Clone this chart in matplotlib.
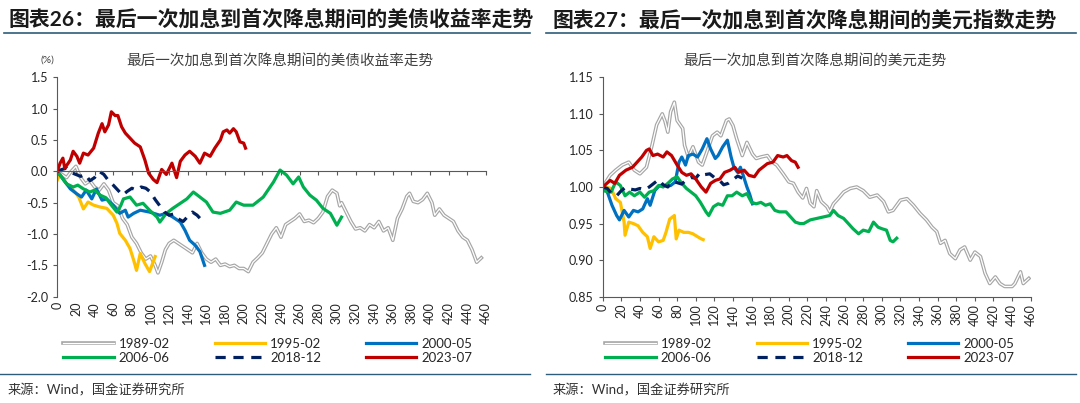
# -*- coding: utf-8 -*-
"""
Two panels: US yield and dollar index moves between the last hike and the first cut.
"""
import matplotlib
matplotlib.use("Agg")
import matplotlib.pyplot as plt
import matplotlib.patheffects as pe
from matplotlib.lines import Line2D

plt.rcParams['font.family'] = ['Lato', 'Noto Sans CJK SC', 'DejaVu Sans']
plt.rcParams['axes.unicode_minus'] = False

#--------------------------------------------
#---  data: left panel (yield change, %)  ---
yld_x_1989 = [0, 5, 10, 15, 20, 25, 30, 35, 40, 45,
              50, 55, 60, 65, 70, 75, 80, 85, 90, 95,
              100, 105, 108, 112, 116, 120, 125, 130, 135, 140,
              145, 150, 155, 160, 165, 170, 175, 180, 185, 190,
              195, 200, 205, 210, 215, 220, 225, 230, 235, 240,
              245, 250, 255, 260, 265, 270, 275, 280, 285, 290,
              295, 300, 303, 305, 310, 315, 320, 325, 330, 335,
              340, 345, 350, 355, 360, 365, 370, 375, 378, 382,
              387, 392, 397, 402, 405, 410, 415, 420, 425, 430,
              435, 440, 445, 450, 455]
yld_1989 = [0, -0.05, -0.1, 0.0, 0.08, -0.1, -0.2, -0.15, -0.25, -0.3,
            -0.2, -0.3, -0.5, -0.55, -0.75, -0.85, -1.05, -1.15, -1.3, -1.4,
            -1.35, -1.5, -1.62, -1.45, -1.25, -1.15, -1.1, -1.15, -1.2, -1.25,
            -1.3, -1.15, -1.3, -1.4, -1.45, -1.4, -1.5, -1.48, -1.52, -1.5,
            -1.55, -1.55, -1.6, -1.45, -1.38, -1.3, -1.15, -1.0, -0.9, -1.05,
            -0.85, -0.8, -0.75, -0.68, -0.8, -0.78, -0.82, -0.75, -0.65, -0.4,
            -0.3, -0.35, -0.55, -0.5, -0.65, -0.8, -0.92, -0.9, -0.95, -0.85,
            -0.9, -0.8, -0.95, -0.9, -1.1, -0.75, -0.6, -0.4, -0.35, -0.48,
            -0.5, -0.45, -0.35, -0.5, -0.7, -0.6, -0.7, -0.75, -0.8, -0.95,
            -1.05, -1.1, -1.25, -1.45, -1.38]

yld_x_1995 = [0, 3, 6, 10, 14, 17, 20, 23, 28, 33, 39, 46,
              53, 60, 64, 67, 73, 78, 82, 85, 89, 94, 99, 105]
yld_1995 = [-0.14, -0.05, -0.12, -0.2, -0.25, -0.3, -0.35, -0.41, -0.6, -0.49, -0.54, -0.57,
            -0.59, -0.7, -0.83, -0.99, -1.1, -1.23, -1.42, -1.58, -1.31, -1.47, -1.6, -1.36]

yld_x_2000 = [0, 6, 14, 21, 26, 31, 37, 42, 48, 53, 60, 67, 73,
              76, 82, 89, 99, 110, 117, 124, 132, 137, 142, 148, 153, 158]
yld_2000 = [0, -0.12, -0.28, -0.36, -0.41, -0.3, -0.44, -0.28, -0.46, -0.44, -0.54, -0.67, -0.62,
            -0.73, -0.67, -0.62, -0.65, -0.7, -0.67, -0.73, -0.81, -0.94, -1.1, -1.18, -1.28, -1.5]

yld_x_2006 = [0, 6, 10, 17, 22, 28, 35, 40, 46, 52, 57, 64, 68, 71, 78, 85,
              92, 99, 107, 110, 117, 124, 132, 139, 146, 153, 160, 167, 175, 185, 192,
              200, 210, 221, 232, 239, 246, 253, 259, 264, 271, 278, 285, 293, 300, 305]
yld_2006 = [0, -0.12, -0.2, -0.25, -0.22, -0.28, -0.33, -0.3, -0.38, -0.42, -0.52, -0.65, -0.55, -0.44, -0.41, -0.54,
            -0.51, -0.62, -0.73, -0.81, -0.67, -0.59, -0.51, -0.44, -0.33, -0.41, -0.49, -0.65, -0.67, -0.62, -0.49,
            -0.54, -0.54, -0.41, -0.17, 0.02, -0.06, -0.2, -0.09, -0.25, -0.38, -0.46, -0.59, -0.67, -0.86, -0.73]

yld_x_2018 = [0, 5, 10, 15, 20, 25, 30, 35, 40, 45, 50, 55, 60, 65, 70, 75,
              80, 85, 90, 95, 100, 105, 110, 115, 120, 125, 130, 135, 140, 145, 150, 155]
yld_2018 = [0, 0.03, 0.05, -0.02, -0.05, -0.08, -0.05, -0.15, -0.1, 0.0, -0.05, -0.15, -0.22, -0.3, -0.38, -0.32,
            -0.27, -0.3, -0.25, -0.27, -0.33, -0.45, -0.55, -0.65, -0.7, -0.68, -0.76, -0.8, -0.72, -0.65, -0.7, -0.78]

yld_x_2023 = [0, 3, 6, 8, 14, 17, 21, 24, 28, 33, 39, 44, 48, 51, 55, 58,
              62, 65, 69, 73, 78, 83, 89, 94, 98, 103, 107, 112, 117, 123, 128, 132,
              137, 142, 148, 153, 158, 164, 169, 175, 178, 182, 185, 189, 192, 196, 200, 202]
yld_2023 = [0, 0.13, 0.21, 0.05, 0.18, 0.32, 0.24, 0.13, 0.29, 0.26, 0.37, 0.61, 0.76, 0.63, 0.74, 0.95,
            0.89, 0.89, 0.71, 0.61, 0.53, 0.45, 0.39, 0.18, -0.03, -0.13, -0.18, 0.03, -0.05, 0.13, -0.1, 0.16,
            0.26, 0.32, 0.24, 0.13, 0.29, 0.24, 0.37, 0.5, 0.63, 0.66, 0.61, 0.68, 0.63, 0.47, 0.45, 0.37]

#---  data: right panel (dollar index, start = 1)  ---
usd_x_1989 = [0, 8, 14, 21, 28, 34, 40, 47, 53, 58,
              64, 67, 70, 73, 77, 80, 86, 88, 92, 97,
              103, 107, 112, 118, 123, 127, 133, 136, 140, 144,
              150, 155, 161, 165, 170, 177, 182, 187, 194, 200,
              205, 210, 215, 219, 223, 227, 230, 235, 241, 244,
              248, 253, 259, 266, 273, 280, 287, 295, 302, 307,
              312, 320, 327, 334, 341, 348, 354, 359, 363, 368,
              373, 379, 384, 389, 395, 400, 406, 411, 416, 422,
              427, 432, 440, 443, 449, 452, 458]
usd_1989 = [1.0, 1.016, 1.023, 1.03, 1.034, 1.023, 1.018, 1.027, 1.057, 1.085,
            1.10, 1.09, 1.075, 1.103, 1.116, 1.091, 1.08, 1.057, 1.041, 1.055,
            1.034, 1.03, 1.048, 1.07, 1.075, 1.07, 1.091, 1.093, 1.084, 1.066,
            1.043, 1.061, 1.045, 1.039, 1.041, 1.043, 1.034, 1.03, 1.018, 1.007,
            1.005, 0.993, 0.985, 0.998, 0.978, 0.973, 0.995, 0.98, 0.973, 0.966,
            0.977, 0.984, 0.993, 0.998, 1.0, 0.995, 0.986, 0.989, 0.98, 0.966,
            0.968, 0.982, 0.984, 0.975, 0.964, 0.955, 0.945, 0.939, 0.923, 0.927,
            0.909, 0.902, 0.914, 0.918, 0.9, 0.911, 0.905, 0.882, 0.868, 0.877,
            0.868, 0.864, 0.864, 0.868, 0.884, 0.868, 0.875]

usd_x_1995 = [0, 3, 9, 14, 19, 23, 24, 28, 33, 38, 43, 48, 51, 55,
              60, 65, 68, 72, 77, 79, 82, 87, 92, 97, 102, 106, 108]
usd_1995 = [1.0, 1.0, 0.998, 0.984, 0.979, 0.952, 0.934, 0.952, 0.95, 0.947, 0.938, 0.932, 0.916, 0.932,
            0.925, 0.927, 0.938, 0.956, 0.961, 0.929, 0.941, 0.938, 0.938, 0.936, 0.932, 0.929, 0.928]

usd_x_2000 = [0, 5, 10, 15, 18, 23, 28, 33, 38, 43, 48, 51, 56, 61, 66, 73, 78, 82, 85,
              89, 92, 97, 102, 107, 112, 116, 121, 124, 129, 134, 138, 141, 145, 148, 151, 155, 158, 161]
usd_2000 = [1.0, 0.993, 0.975, 0.961, 0.955, 0.968, 0.959, 0.968, 0.966, 0.97, 0.984, 0.975, 0.995, 1.002, 1.002, 1.002, 1.007, 1.034, 1.041,
            1.03, 1.043, 1.045, 1.041, 1.052, 1.066, 1.052, 1.039, 1.043, 1.055, 1.064, 1.041, 1.027, 1.02, 1.027, 1.016, 1.0, 0.99, 0.977]

usd_x_2006 = [0, 9, 14, 19, 24, 29, 34, 40, 45, 50, 55, 60, 65, 70, 75, 80,
              85, 90, 95, 100, 105, 111, 114, 119, 124, 129, 134, 139, 144, 150, 155,
              160, 165, 170, 175, 180, 185, 190, 197, 202, 207, 212, 216, 223, 230, 237,
              244, 248, 253, 259, 264, 269, 275, 280, 286, 291, 296, 300, 305, 309, 312, 316]
usd_2006 = [0.995, 0.993, 1.007, 1.002, 0.988, 0.993, 0.988, 0.993, 0.986, 0.993, 0.995, 1.002, 1.0, 1.005, 1.011, 1.014,
            1.005, 0.998, 0.993, 0.988, 0.979, 0.966, 0.961, 0.973, 0.977, 0.975, 0.988, 0.988, 0.993, 0.988, 0.991,
            0.979, 0.977, 0.979, 0.975, 0.977, 0.968, 0.966, 0.966, 0.959, 0.952, 0.95, 0.95, 0.955, 0.957, 0.959,
            0.961, 0.968, 0.961, 0.957, 0.95, 0.943, 0.936, 0.941, 0.939, 0.952, 0.945, 0.943, 0.941, 0.927, 0.925, 0.93]

usd_x_2018 = [0, 5, 10, 15, 20, 25, 30, 35, 40, 45, 50, 55, 60, 65, 70, 75,
              80, 85, 90, 95, 100, 105, 110, 115, 120, 125, 130, 135, 140, 145, 150]
usd_2018 = [1.0, 0.998, 0.99, 0.988, 0.995, 1.0, 0.997, 0.996, 0.998, 0.996, 1.0, 1.005, 1.01, 1.003, 1.0, 1.008,
            1.006, 1.004, 1.01, 1.013, 1.012, 1.02, 1.017, 1.018, 1.013, 1.01, 1.003, 1.005, 1.01, 1.015, 1.012]

usd_x_2023 = [0, 8, 13, 18, 25, 32, 37, 42, 47, 50, 54, 59, 65, 69, 74, 80, 85, 90, 95, 100, 106,
              111, 116, 121, 126, 131, 137, 142, 146, 152, 157, 163, 168, 172, 177, 183, 188, 194, 198, 203, 207, 210]
usd_2023 = [1.0, 1.009, 1.005, 1.016, 1.023, 1.027, 1.034, 1.041, 1.05, 1.052, 1.043, 1.045, 1.041, 1.048, 1.043, 1.03, 1.02, 1.016, 1.018, 1.011, 1.0,
            0.993, 1.005, 1.009, 1.011, 1.02, 1.023, 1.027, 1.02, 1.023, 1.016, 1.014, 1.023, 1.027, 1.032, 1.034, 1.043, 1.041, 1.043, 1.036, 1.034, 1.027]

labels = ['1989-02', '1995-02', '2000-05', '2006-06', '2018-12', '2023-07']
colors = ['#a6a6a6', '#ffc000', '#0070c0', '#00b050', '#002060', '#c00000']

x_ticks = list(range(0, 461, 20))
yld_ticks = [-2.0, -1.5, -1.0, -0.5, 0.0, 0.5, 1.0, 1.5]
usd_ticks = [0.85, 0.90, 0.95, 1.00, 1.05, 1.10, 1.15]

W, H = 1080, 403
fig = plt.figure(figsize=(W / 100, H / 100), dpi=100)


def fx(px):
    return px / W


def fy(py):
    return 1 - py / H


def draw_panel(ax, series, ylim, yticks, yfmt, zero_axis=False, xpad=2):
    if zero_axis:
        # x axis line sits on y = 0, labels stay at the bottom
        ax.spines['bottom'].set_position(('data', 0))
    lines = []
    for i, (xs, ys) in enumerate(series):
        if i == 0:
            # double line: white core with a grey outline
            ln, = ax.plot(xs, ys, color='white', lw=0.9, label=labels[i],
                          path_effects=[pe.Stroke(linewidth=2.6, foreground=colors[0]), pe.Normal()])
        elif i == 4:
            ln, = ax.plot(xs, ys, color=colors[i], lw=2.3, dashes=(3.2, 2.4), label=labels[i])
        else:
            ln, = ax.plot(xs, ys, color=colors[i], lw=2.3, label=labels[i])
        lines.append(ln)
    ax.set_xlim(0, 460)
    ax.set_ylim(*ylim)
    ax.set_xticks(x_ticks)
    ax.set_xticklabels([str(t) for t in x_ticks])
    ax.set_yticks(yticks)
    ax.set_yticklabels([yfmt % t for t in yticks])
    for s in ['top', 'right']:
        ax.spines[s].set_visible(False)
    for s in ['left', 'bottom']:
        ax.spines[s].set_color('#595959')
        ax.spines[s].set_linewidth(0.8)
    ax.tick_params(axis='both', direction='out', length=3, width=0.8,
                   color='#595959', labelsize=9, labelcolor='#262626')
    ax.tick_params(axis='x', labelrotation=90, pad=xpad)
    ax.patch.set_visible(False)
    return lines


#---  left panel  ---
ax1 = fig.add_axes([fx(57.3), fy(296.7), (486 - 57.3) / W, (296.7 - 77.3) / H])
lines1 = draw_panel(ax1, [(yld_x_1989, yld_1989), (yld_x_1995, yld_1995), (yld_x_2000, yld_2000),
                          (yld_x_2006, yld_2006), (yld_x_2018, yld_2018), (yld_x_2023, yld_2023)],
                    (-2.0, 1.5), yld_ticks, '%.1f', zero_axis=True, xpad=91)

#---  right panel  ---
ax2 = fig.add_axes([fx(602.7), fy(296.7), (1030.7 - 602.7) / W, (296.7 - 77.3) / H])
lines2 = draw_panel(ax2, [(usd_x_1989, usd_1989), (usd_x_1995, usd_1995), (usd_x_2000, usd_2000),
                          (usd_x_2006, usd_2006), (usd_x_2018, usd_2018), (usd_x_2023, usd_2023)],
                    (0.85, 1.15), usd_ticks, '%.2f')

#---  legends (row-wise order, 3 columns)  ---
order = [0, 3, 1, 4, 2, 5]
for ax, lines, cx in [(ax1, lines1, 268), (ax2, lines2, 810)]:
    ax.legend([lines[k] for k in order], [labels[k] for k in order],
              loc='center', bbox_to_anchor=(fx(cx), fy(351)), bbox_transform=fig.transFigure,
              ncol=3, frameon=False, fontsize=9.5, handlelength=3.8, handletextpad=0.4,
              columnspacing=3.4, labelspacing=0.15, labelcolor='#262626')

#---  titles and frame lines  ---
title_col = '#1a1a1a'
rule_col = '#2e5c7a'
fig.text(fx(8), fy(20), '图表26：最后一次加息到首次降息期间的美债收益率走势',
         fontsize=15, fontweight='bold', color=title_col, va='center', ha='left')
fig.text(fx(553), fy(20), '图表27：最后一次加息到首次降息期间的美元指数走势',
         fontsize=15, fontweight='bold', color=title_col, va='center', ha='left')
fig.add_artist(Line2D([fx(4), fx(530)], [fy(33), fy(33)], color=rule_col, lw=1.2))
fig.add_artist(Line2D([fx(546), fx(1076)], [fy(33), fy(33)], color=rule_col, lw=1.2))
fig.add_artist(Line2D([fx(0), fx(530)], [fy(374), fy(374)], color=rule_col, lw=1.0))
fig.add_artist(Line2D([fx(546), fx(1076)], [fy(374), fy(374)], color=rule_col, lw=1.0))

fig.text(fx(280), fy(61), '最后一次加息到首次降息期间的美债收益率走势',
         fontsize=10.5, color='#404040', ha='center', va='center')
fig.text(fx(815), fy(61), '最后一次加息到首次降息期间的美元走势',
         fontsize=10.5, color='#404040', ha='center', va='center')
fig.text(fx(47), fy(60), '(%)', fontsize=7.5, color='#404040', ha='center', va='center')

fig.text(fx(8), fy(390), '来源：Wind，国金证券研究所', fontsize=9.5, color='#333333',
         ha='left', va='center')
fig.text(fx(553), fy(390), '来源：Wind，国金证券研究所', fontsize=9.5, color='#333333',
         ha='left', va='center')

fig.savefig('out.png', dpi=100)
